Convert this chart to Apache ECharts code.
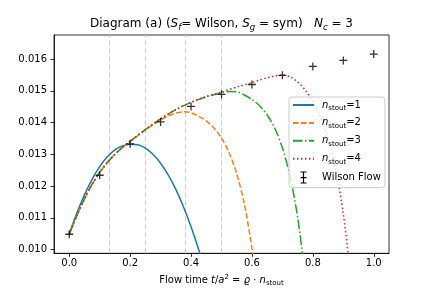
<!DOCTYPE html>
<html>
<head>
<meta charset="utf-8">
<script src="https://cdn.jsdelivr.net/npm/echarts@6/dist/echarts.min.js"></script>
<style>html,body{margin:0;padding:0;background:#fff;}#c{width:432px;height:288px;}</style>
</head>
<body>
<div id="c"></div>
<script>
// ---- data ----
const t1 = [0, 0.025, 0.05, 0.075, 0.1, 0.125, 0.15, 0.175, 0.2, 0.225, 0.25, 0.275, 0.3, 0.325, 0.35, 0.375, 0.4, 0.425, 0.45];
const v1 = [0.01048, 0.011146, 0.011723, 0.012211, 0.01261, 0.012921, 0.013143, 0.013265, 0.01332, 0.01330, 0.013196, 0.013001, 0.01272, 0.01235, 0.011894, 0.011349, 0.010717, 0.009998, 0.00919];

const t2 = [0, 0.025, 0.05, 0.075, 0.1, 0.125, 0.15, 0.175, 0.2, 0.25, 0.3, 0.325, 0.35, 0.375, 0.4, 0.425, 0.45, 0.475, 0.5, 0.525, 0.55, 0.575, 0.6, 0.625];
const v2 = [0.01048, 0.01107, 0.01160, 0.01205, 0.01243, 0.01274, 0.01300, 0.01322, 0.01340, 0.01377, 0.01408, 0.01421, 0.01430, 0.01434, 0.01431, 0.01420, 0.01405, 0.01383, 0.01351, 0.01305, 0.01239, 0.01143, 0.01003, 0.00800];

const t3 = [0, 0.025, 0.05, 0.075, 0.1, 0.125, 0.15, 0.175, 0.2, 0.25, 0.3, 0.35, 0.4, 0.45, 0.5, 0.525, 0.55, 0.575, 0.6, 0.625, 0.65, 0.675, 0.7, 0.725, 0.75, 0.775];
const v3 = [0.01048, 0.01107, 0.01160, 0.01205, 0.01243, 0.01274, 0.01300, 0.01322, 0.01341, 0.01378, 0.01412, 0.01441, 0.01464, 0.01481, 0.01494, 0.01498, 0.01497, 0.01487, 0.01473, 0.01453, 0.01424, 0.01382, 0.01320, 0.01231, 0.01102, 0.00914];

const t4 = [0, 0.025, 0.05, 0.075, 0.1, 0.125, 0.15, 0.175, 0.2, 0.25, 0.3, 0.35, 0.4, 0.45, 0.5, 0.55, 0.6, 0.625, 0.65, 0.675, 0.7, 0.725, 0.75, 0.775, 0.8, 0.825, 0.85, 0.875, 0.9, 0.925];
const v4 = [0.01048, 0.01107, 0.01160, 0.01205, 0.01243, 0.01274, 0.01300, 0.01322, 0.01341, 0.01378, 0.01412, 0.01441, 0.01464, 0.01482, 0.01496, 0.01512, 0.01526, 0.01534, 0.01541, 0.01547, 0.01550, 0.01544, 0.01528, 0.01502, 0.01465, 0.01417, 0.01350, 0.01253, 0.01112, 0.00908];

const tWilson = [0, 0.1, 0.2, 0.3, 0.4, 0.5, 0.6, 0.7, 0.8, 0.9, 1.0];
const vWilson = [0.01048, 0.01234, 0.01333, 0.01402, 0.01451, 0.01489, 0.01520, 0.01549, 0.01577, 0.01596, 0.01616];

const nStout = [1, 2, 3, 4];
const vLines = [0.125, 0.25, 0.375, 0.5];
const xTicks = [0, 0.2, 0.4, 0.6, 0.8, 1.0];
const yTicks = [0.010, 0.011, 0.012, 0.013, 0.014, 0.015, 0.016];

// ---- chart ----
const FONT = 'DejaVu Sans';
const colors = ['#1f77b4', '#ff7f0e', '#2ca02c', '#d62728'];
const dashes = ['solid', [5.55, 2.4], [9.6, 2.4, 1.5, 2.4], [1.5, 2.475]];
const ts = [t1, t2, t3, t4];
const vs = [v1, v2, v3, v4];
const zip = (a, b) => a.map((x, i) => [x, b[i]]);

const series = nStout.map((n, k) => {
  const s = {
    name: 'n' + n,
    type: 'line',
    data: zip(ts[k], vs[k]),
    smooth: 0.3,
    symbol: 'none',
    clip: true,
    lineStyle: { color: colors[k], width: 1.5, type: dashes[k], cap: 'butt' },
    itemStyle: { color: colors[k] },
    z: 3
  };
  if (k === 0) {
    s.markLine = {
      silent: true,
      symbol: 'none',
      label: { show: false },
      lineStyle: { color: '#cccccc', type: [5, 3], width: 1 },
      data: vLines.map(x => ({ xAxis: x })),
      z: 1
    };
  }
  return s;
});

const plusPath = 'path://M4.2,0H5.8V4.2H10V5.8H5.8V10H4.2V5.8H0V4.2H4.2Z';
const errPath = 'path://M0,0H6V1H3.6V5.4H6V6.6H3.6V11H6V12H0V11H2.4V6.6H0V5.4H2.4V1H0Z';

series.push({
  name: 'Wilson Flow',
  type: 'scatter',
  data: zip(tWilson, vWilson),
  symbol: plusPath,
  symbolSize: 8,
  itemStyle: { color: '#000' },
  z: 4
});

const richBase = {
  i: { fontFamily: FONT, fontStyle: 'italic', fontSize: 10, color: '#000', lineHeight: 13 },
  s: { fontFamily: FONT, fontSize: 7, color: '#000', verticalAlign: 'bottom', lineHeight: 13, padding: [2, 0, 0, 0] },
  r: { fontFamily: FONT, fontSize: 10, color: '#000', lineHeight: 13 },
  p: { fontFamily: FONT, fontSize: 7, color: '#000', verticalAlign: 'top', lineHeight: 13 }
};

const hiddenDot = { color: 'transparent', borderColor: 'transparent', opacity: 0 };

const chart = echarts.init(document.getElementById('c'), null, { renderer: 'canvas' });
chart.setOption({
  animation: false,
  backgroundColor: '#fff',
  title: {
    left: 221.5,
    textAlign: 'center',
    top: 16,
    padding: 0,
    text: '{r|Diagram (a) (}{i|S}{s|f}{r|= Wilson, }{i|S}{s|g}{r| = sym)   }{i|N}{s|c}{r| = 3}',
    textStyle: {
      fontFamily: FONT, fontSize: 12, color: '#000', fontWeight: 'normal',
      rich: {
        r: { fontFamily: FONT, fontSize: 12, color: '#000', lineHeight: 16 },
        i: { fontFamily: FONT, fontSize: 12, fontStyle: 'italic', color: '#000', lineHeight: 16 },
        s: { fontFamily: FONT, fontSize: 8.5, fontStyle: 'italic', color: '#000', lineHeight: 16, verticalAlign: 'bottom', padding: [2, 0, 0, 0] }
      }
    }
  },
  grid: {
    left: 54, right: 43, top: 35, bottom: 34.7,
    containLabel: false,
    outerBoundsMode: 'none',
    show: true, borderColor: '#000', borderWidth: 0.8, backgroundColor: 'transparent'
  },
  legend: {
    orient: 'vertical',
    left: 289,
    top: 97,
    padding: [3, 4, 4, 3],
    itemWidth: 21,
    itemHeight: 12,
    itemGap: 6.4,
    backgroundColor: 'rgba(255,255,255,0.8)',
    borderColor: '#cccccc',
    borderWidth: 1,
    borderRadius: 3,
    data: [
      { name: 'n1', itemStyle: hiddenDot },
      { name: 'n2', itemStyle: hiddenDot },
      { name: 'n3', itemStyle: hiddenDot },
      { name: 'n4', itemStyle: hiddenDot },
      { name: 'Wilson Flow', icon: errPath, itemStyle: { color: '#000', opacity: 1 } }
    ],
    formatter: function (name) {
      if (name.charAt(0) === 'n') {
        return '{i|n}{s|stout}{r|=' + name.slice(1) + '}';
      }
      return '{r|' + name + '}';
    },
    textStyle: { fontFamily: FONT, fontSize: 10, color: '#000', padding: [0, 0, 0, 3], rich: richBase }
  },
  xAxis: {
    type: 'value',
    min: -0.05,
    max: 1.05,
    name: '{r|Flow time }{i|t}{r|/}{i|a}{p|2}{r| = }{i|ϱ}{r| · }{i|n}{s|stout}',
    nameLocation: 'middle',
    nameGap: 20,
    nameTextStyle: { fontFamily: FONT, fontSize: 10, color: '#000', rich: richBase },
    axisLine: { show: true, onZero: false, lineStyle: { color: '#000', width: 0.8 } },
    axisTick: { show: true, inside: false, length: 3.5, lineStyle: { color: '#000', width: 0.8 }, customValues: xTicks },
    axisLabel: {
      show: true, margin: 5.5, fontFamily: FONT, fontSize: 10, color: '#000',
      customValues: xTicks,
      formatter: v => v.toFixed(1)
    },
    splitLine: { show: false }
  },
  yAxis: {
    type: 'value',
    min: 0.00988,
    max: 0.01676,
    axisLine: { show: true, onZero: false, lineStyle: { color: '#000', width: 0.8 } },
    axisTick: { show: true, inside: false, length: 3.5, lineStyle: { color: '#000', width: 0.8 }, customValues: yTicks },
    axisLabel: {
      show: true, margin: 7, fontFamily: FONT, fontSize: 10, color: '#000',
      customValues: yTicks,
      formatter: v => v.toFixed(3)
    },
    splitLine: { show: false }
  },
  series: series
});
</script>
</body>
</html>
